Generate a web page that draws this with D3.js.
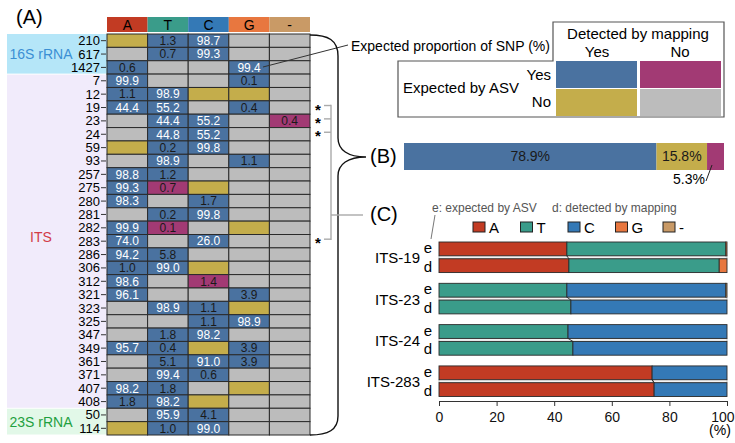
<!DOCTYPE html>
<html>
<head>
<meta charset="utf-8">
<script src="https://cdn.jsdelivr.net/npm/d3@7"></script>
<style>
  body { margin: 0; background: #fff; }
  svg { display: block; font-family: "Liberation Sans", Arial, sans-serif; }
</style>
</head>
<body>
<div id="container"></div>
<script>
// ---- data ----
const bases = ['A', 'T', 'C', 'G', '-'];
const positions = ['210', '617', '1427', '7', '12', '19', '23', '24', '59', '93', '257', '275', '280', '281',
  '282', '283', '286', '306', '312', '321', '323', '325', '347', '349', '361', '371', '407', '408', '50', '114'];
// b: expected & detected, m: expected only, y: detected only, g: neither
const cellStatus = ['ybbgg', 'gbbgg', 'bggbg', 'bggbg', 'bbyyg', 'bbgbg', 'gbbgm', 'gbbgg', 'ybbgg', 'gbgbg',
  'bbggg', 'bmygg', 'bgbgg', 'gbbgg', 'bmgyg', 'bgbgg', 'bbggg', 'bbygg', 'bgmgg', 'bggbg',
  'gbbyg', 'ggbbg', 'gbbgg', 'bbybg', 'gbbbg', 'gbbgg', 'bbgyg', 'bbygg', 'gbbgg', 'ybbgg'];
const snpValues = [
  ['', '1.3', '98.7', '', ''], ['', '0.7', '99.3', '', ''], ['0.6', '', '', '99.4', ''],
  ['99.9', '', '', '0.1', ''], ['1.1', '98.9', '', '', ''], ['44.4', '55.2', '', '0.4', ''],
  ['', '44.4', '55.2', '', '0.4'], ['', '44.8', '55.2', '', ''], ['', '0.2', '99.8', '', ''],
  ['', '98.9', '', '1.1', ''], ['98.8', '1.2', '', '', ''], ['99.3', '0.7', '', '', ''],
  ['98.3', '', '1.7', '', ''], ['', '0.2', '99.8', '', ''], ['99.9', '0.1', '', '', ''],
  ['74.0', '', '26.0', '', ''], ['94.2', '5.8', '', '', ''], ['1.0', '99.0', '', '', ''],
  ['98.6', '', '1.4', '', ''], ['96.1', '', '', '3.9', ''], ['', '98.9', '1.1', '', ''],
  ['', '', '1.1', '98.9', ''], ['', '1.8', '98.2', '', ''], ['95.7', '0.4', '', '3.9', ''],
  ['', '5.1', '91.0', '3.9', ''], ['', '99.4', '0.6', '', ''], ['98.2', '1.8', '', '', ''],
  ['1.8', '98.2', '', '', ''], ['', '95.9', '4.1', '', ''], ['', '1.0', '99.0', '', '']];
const regionNames = ['16S rRNA', 'ITS', '23S rRNA'];
const regionRowCounts = [3, 25, 2];
const starredPositions = ['19', '23', '24', '283'];

const summaryKeys = ['b', 'y', 'm'];
const summaryValues = [78.9, 15.8, 5.3];

const compareSites = ['ITS-19', 'ITS-23', 'ITS-24', 'ITS-283'];
const expectedFreq = [[44.4, 55.2, 0, 0.4, 0], [0, 44.4, 55.2, 0, 0.4], [0, 44.8, 55.2, 0, 0], [74.0, 0, 26.0, 0, 0]];
const detectedFreq = [[45.1, 52.2, 0, 2.7, 0], [0, 45.8, 54.2, 0, 0], [0, 46.5, 53.5, 0, 0], [74.7, 0, 25.3, 0, 0]];
const xTicks = [0, 20, 40, 60, 80, 100];

// ---- styles ----
const statusColor = { b: '#4a72a0', m: '#a23a74', y: '#c4ad4b', g: '#bcbcbc' };
const baseColor = { 'A': '#c23b23', 'T': '#3a9c8a', 'C': '#3479b6', 'G': '#e8773f', '-': '#c99a66' };
const regionFill = ['#b5e6f8', '#f1ebfb', '#e2f8e8'];
const regionText = ['#3b8fd4', '#d23c48', '#1fa040'];

const svg = d3.select('#container').append('svg')
  .attr('width', 735)
  .attr('height', 443);

// ================= (A) =================
const col = d3.scaleBand().domain(bases).range([107, 310]);
const row = d3.scaleBand().domain(d3.range(positions.length)).range([34, 435]);

svg.append('text').attr('x', 16).attr('y', 24).attr('font-size', 20).text('(A)');

// region backgrounds + labels
let start = 0;
regionNames.forEach((name, i) => {
  const y0 = row(start), y1 = row(start + regionRowCounts[i] - 1) + row.bandwidth();
  svg.append('rect').attr('x', 7).attr('y', y0 + (i ? 0.5 : 0)).attr('width', 100)
    .attr('height', y1 - y0 - (i ? 0.5 : 0) - 0.5).attr('fill', regionFill[i]);
  svg.append('text').attr('x', 41).attr('y', (y0 + y1) / 2 + 5 - (i === 1 ? 4 : 0))
    .attr('text-anchor', 'middle').attr('font-size', 14).attr('fill', regionText[i]).text(name);
  start += regionRowCounts[i];
});

// header
svg.selectAll('rect.head').data(bases).join('rect').attr('class', 'head')
  .attr('x', d => col(d)).attr('y', 17).attr('width', col.bandwidth()).attr('height', 15)
  .attr('fill', d => baseColor[d]);
svg.selectAll('text.head').data(bases).join('text').attr('class', 'head')
  .attr('x', d => col(d) + col.bandwidth() / 2).attr('y', 30)
  .attr('text-anchor', 'middle').attr('font-size', 14).text(d => d);

// row labels
positions.forEach((p, i) => {
  const cy = row(i) + row.bandwidth() / 2;
  svg.append('text').attr('x', 100).attr('y', cy + 4.5).attr('text-anchor', 'end')
    .attr('font-size', 13).text(p);
  svg.append('line').attr('x1', 101).attr('x2', 106).attr('y1', cy).attr('y2', cy)
    .attr('stroke', '#333').attr('stroke-width', 1);
});

// cells
const cells = [];
positions.forEach((p, i) => bases.forEach((b, j) => cells.push({ i, b, s: cellStatus[i][j], v: snpValues[i][j] })));
svg.selectAll('rect.cell').data(cells).join('rect').attr('class', 'cell')
  .attr('x', d => col(d.b)).attr('y', d => row(d.i))
  .attr('width', col.bandwidth()).attr('height', row.bandwidth())
  .attr('fill', d => statusColor[d.s]).attr('stroke', '#2a2a2a').attr('stroke-width', 1);
svg.selectAll('text.cell').data(cells.filter(d => d.v !== '')).join('text').attr('class', 'cell')
  .attr('x', d => col(d.b) + col.bandwidth() / 2).attr('y', d => row(d.i) + row.bandwidth() / 2 + 4.3)
  .attr('text-anchor', 'middle').attr('font-size', 12)
  .attr('fill', d => +d.v >= 10 ? '#fff' : '#1a1a1a').text(d => d.v);

// annotation line to SNP proportion
svg.append('line').attr('x1', 263).attr('y1', 67).attr('x2', 348).attr('y2', 45)
  .attr('stroke', '#333').attr('stroke-width', 1);
svg.append('text').attr('x', 351).attr('y', 51).attr('font-size', 14).text('Expected proportion of SNP (%)');

// curly brace
svg.append('path')
  .attr('d', 'M310,35 C328,35 338,40 338,56 L338,138 C338,150 348,157 366,157 C348,157 338,164 338,176 L338,416 C338,430 328,435 310,435')
  .attr('fill', 'none').attr('stroke', '#111').attr('stroke-width', 1.4);

// starred rows + gray bracket
const starY = starredPositions.map(p => row(positions.indexOf(p)) + row.bandwidth() / 2);
starY.forEach(cy => {
  svg.append('text').attr('x', 318).attr('y', cy + 7).attr('text-anchor', 'middle')
    .attr('font-size', 15).attr('font-weight', 'bold').text('*');
  svg.append('line').attr('x1', 324).attr('x2', 331).attr('y1', cy - 2).attr('y2', cy - 2)
    .attr('stroke', '#aaa').attr('stroke-width', 1.4);
});
svg.append('line').attr('x1', 331).attr('x2', 331).attr('y1', starY[0] - 2.7).attr('y2', starY[3] - 1.3)
  .attr('stroke', '#aaa').attr('stroke-width', 1.4);
svg.append('line').attr('x1', 331).attr('x2', 363).attr('y1', 215).attr('y2', 215)
  .attr('stroke', '#aaa').attr('stroke-width', 1.4);

// ================= legend =================
svg.append('path').attr('d', 'M553,22 H724 V117 H398 V61 H553 Z')
  .attr('fill', 'none').attr('stroke', '#555').attr('stroke-width', 1.2);
svg.append('text').attr('x', 638).attr('y', 39).attr('text-anchor', 'middle').attr('font-size', 15).text('Detected by mapping');
svg.append('text').attr('x', 597).attr('y', 57).attr('text-anchor', 'middle').attr('font-size', 15).text('Yes');
svg.append('text').attr('x', 680).attr('y', 57).attr('text-anchor', 'middle').attr('font-size', 15).text('No');
svg.append('text').attr('x', 551).attr('y', 80).attr('text-anchor', 'end').attr('font-size', 15).text('Yes');
svg.append('text').attr('x', 551).attr('y', 107).attr('text-anchor', 'end').attr('font-size', 15).text('No');
svg.append('text').attr('x', 403).attr('y', 93).attr('font-size', 15).text('Expected by ASV');
[['b', 'm'], ['y', 'g']].forEach((r, ri) => r.forEach((k, ci) => {
  svg.append('rect').attr('x', 556 + ci * 84).attr('y', 61 + ri * 28).attr('width', 81).attr('height', 27)
    .attr('fill', statusColor[k]);
}));

// ================= (B) =================
svg.append('text').attr('x', 370).attr('y', 163).attr('font-size', 20).text('(B)');
const xB = d3.scaleLinear().domain([0, 100]).range([404, 724]);
const cum = d3.cumsum(summaryValues);
const segs = summaryValues.map((v, i) => ({ k: summaryKeys[i], v, x0: cum[i] - v, x1: cum[i] }));
svg.selectAll('rect.sum').data(segs).join('rect').attr('class', 'sum')
  .attr('x', d => xB(d.x0)).attr('y', 143).attr('width', d => xB(d.x1) - xB(d.x0)).attr('height', 27)
  .attr('fill', d => statusColor[d.k]);
segs.slice(0, 2).forEach(d => {
  svg.append('text').attr('x', (xB(d.x0) + xB(d.x1)) / 2).attr('y', 161).attr('text-anchor', 'middle')
    .attr('font-size', 14).attr('fill', '#1a1a1a').text(d.v.toFixed(1) + '%');
});
svg.append('text').attr('x', 705).attr('y', 184).attr('text-anchor', 'end').attr('font-size', 14)
  .text(segs[2].v.toFixed(1) + '%');
svg.append('line').attr('x1', 706).attr('y1', 181).attr('x2', 712).attr('y2', 165)
  .attr('stroke', '#222').attr('stroke-width', 1);

// ================= (C) =================
svg.append('text').attr('x', 370).attr('y', 221).attr('font-size', 20).text('(C)');
svg.append('text').attr('x', 432).attr('y', 212).attr('font-size', 12).attr('fill', '#555').text('e: expected by ASV');
svg.append('text').attr('x', 552).attr('y', 212).attr('font-size', 12).attr('fill', '#555').text('d: detected by mapping');
svg.append('line').attr('x1', 435).attr('y1', 215).attr('x2', 431).attr('y2', 239)
  .attr('stroke', '#777').attr('stroke-width', 1);

bases.forEach((b, i) => {
  const lx = 473 + i * 47.5;
  svg.append('rect').attr('x', lx).attr('y', 222).attr('width', 12).attr('height', 10)
    .attr('fill', baseColor[b]).attr('stroke', '#222').attr('stroke-width', 1);
  svg.append('text').attr('x', lx + 16).attr('y', 233).attr('font-size', 15).text(b);
});

const x = d3.scaleLinear().domain([0, 100]).range([439, 727]);
const yG = d3.scaleBand().domain(compareSites).range([242, 396.5]).paddingInner(0.26).paddingOuter(0);
const barH = (yG.bandwidth() - 3) / 2;

compareSites.forEach((site, gi) => {
  const top = yG(site);
  const rowsED = [expectedFreq[gi], detectedFreq[gi]];
  // gap strip
  svg.append('rect').attr('x', x(0)).attr('y', top + barH).attr('width', x(100) - x(0)).attr('height', 3)
    .attr('fill', '#f2f2f2').attr('stroke', '#999').attr('stroke-width', 0.6);
  const cums = rowsED.map(r => d3.cumsum(r));
  rowsED.forEach((vals, ri) => {
    const y0 = top + ri * (barH + 3);
    const c = cums[ri];
    const parts = vals.map((v, bi) => ({ b: bases[bi], x0: c[bi] - v, x1: c[bi] })).filter(d => d.x1 > d.x0);
    svg.selectAll(null).data(parts).join('rect')
      .attr('x', d => x(d.x0)).attr('y', y0).attr('width', d => x(d.x1) - x(d.x0)).attr('height', barH)
      .attr('fill', d => baseColor[d.b]).attr('stroke', '#2a2a2a').attr('stroke-width', 0.9);
  });
  // connectors between e and d boundaries
  bases.slice(0, 4).forEach((b, bi) => {
    const ce = cums[0][bi], cd = cums[1][bi];
    if (ce > 0.5 && ce < 99.5 && cd > 0.5 && cd < 99.5) {
      svg.append('line').attr('x1', x(ce)).attr('y1', top + barH).attr('x2', x(cd)).attr('y2', top + barH + 3)
        .attr('stroke', '#2a2a2a').attr('stroke-width', 0.9);
    }
  });
  const cy = top + yG.bandwidth() / 2;
  svg.append('text').attr('x', 420).attr('y', cy + 6).attr('text-anchor', 'end').attr('font-size', 15).text(site);
  svg.append('text').attr('x', 428).attr('y', top + 11).attr('text-anchor', 'middle').attr('font-size', 15).text('e');
  svg.append('text').attr('x', 428).attr('y', top + yG.bandwidth() - 1).attr('text-anchor', 'middle').attr('font-size', 15).text('d');
});

const axis = svg.append('g').attr('transform', 'translate(0,401)')
  .call(d3.axisBottom(x).tickValues(xTicks).tickSize(5).tickSizeOuter(0));
axis.selectAll('text').attr('font-size', 14).attr('font-family', '"Liberation Sans", Arial, sans-serif')
  .attr('fill', '#111').attr('dy', '0.9em');
axis.selectAll('.tick').filter(d => d === 100).select('text')
  .attr('text-anchor', 'end').attr('dx', 7);
axis.selectAll('line, path').attr('stroke', '#333');
svg.append('text').attr('x', 720).attr('y', 435).attr('text-anchor', 'middle').attr('font-size', 14).text('(%)');
</script>
</body>
</html>
